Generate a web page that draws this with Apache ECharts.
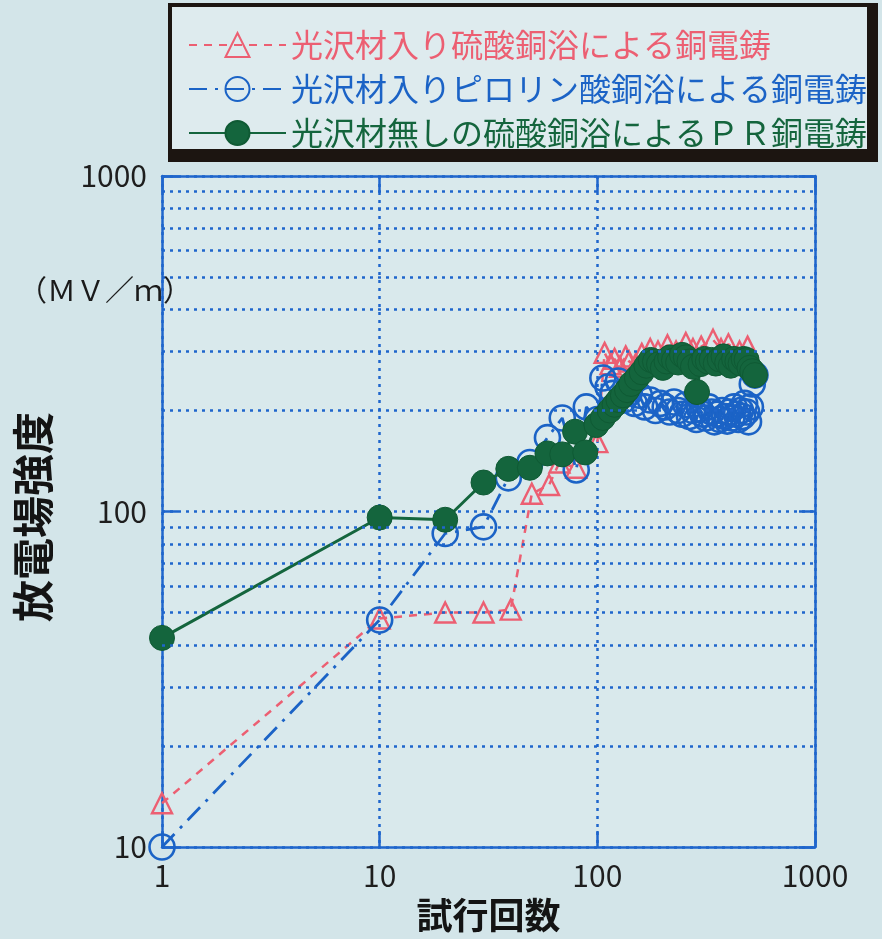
<!DOCTYPE html>
<html><head><meta charset="utf-8">
<script src="https://cdn.jsdelivr.net/npm/echarts/dist/echarts.min.js"></script>
<style>html,body{margin:0;padding:0;background:#d3e5e9;}#c{width:882px;height:939px;}</style>
</head><body><div id="c"></div>
<script>
const seriesNames = ['光沢材入り硫酸銅浴による銅電鋳', '光沢材入りピロリン酸銅浴による銅電鋳', '光沢材無しの硫酸銅浴によるＰＲ銅電鋳'];
const pinkX = [1, 10, 20, 30, 40, 50, 60, 67, 80, 100, 108, 115, 120, 127, 135, 140, 150, 160, 175, 190, 210, 230, 255, 275, 300, 340, 370, 400, 450, 490];
const pinkY = [13.5, 48, 50, 50, 51, 113, 120, 140, 135, 161, 297, 275, 285, 270, 290, 280, 275, 295, 305, 300, 313, 300, 318, 305, 310, 325, 305, 315, 300, 310];
const blueX = [1, 10, 20, 30, 39, 49, 59, 69, 80, 89, 100, 106, 112, 118, 125, 132, 140, 148, 156, 165, 175, 185, 195, 205, 215, 225, 235, 245, 255, 265, 275, 285, 295, 305, 315, 325, 335, 345, 355, 365, 375, 385, 395, 405, 415, 425, 435, 445, 455, 465, 475, 485, 495, 505, 515, 530];
const blueY = [10, 47.5, 86, 90, 126, 140, 166, 190, 133, 205, 188, 250, 235, 225, 245, 215, 225, 210, 222, 205, 215, 200, 210, 205, 198, 212, 200, 195, 208, 192, 200, 188, 202, 195, 190, 205, 198, 185, 195, 188, 200, 192, 186, 198, 190, 205, 195, 188, 200, 192, 210, 198, 185, 205, 240, 255];
const greenX = [1, 10, 20, 30, 39, 49, 59, 69, 79, 88, 99, 106, 114, 120, 125, 131, 137, 143, 152, 160, 168, 176, 184, 192, 200, 208, 216, 225, 235, 245, 255, 265, 275, 287, 298, 310, 322, 335, 350, 365, 380, 395, 410, 425, 440, 455, 470, 485, 500, 515, 530];
const greenY = [42, 96, 94.5, 122, 134, 135, 149, 148, 173, 150, 181, 190, 200, 208, 215, 222, 230, 240, 250, 260, 272, 283, 280, 275, 268, 280, 288, 282, 278, 293, 288, 280, 270, 227, 275, 285, 280, 283, 276, 284, 290, 278, 272, 285, 280, 276, 285, 283, 268, 262, 255];
const xRange = [1, 1000];
const yRange = [10, 1000];
const minorGridY = [20, 30, 40, 50, 60, 70, 80, 90, 200, 300, 400, 500, 600, 700, 800, 900];
const xAxisTitle = '試行回数';
const yAxisTitle = '放電場強度';
const yUnit = '（ＭＶ／ｍ）';

const FONT = '"Noto Sans CJK JP", "Noto Sans", sans-serif';
const PINK = '#ec5f72', BLUE = '#1b63c6', GREEN = '#14653d', GRID = '#1f66cc';
const zip = (a, b) => a.map((v, i) => [v, b[i]]);
const plain = v => String(v);

const axisBase = {
  type: 'log', logBase: 10,
  axisLine: { show: true, lineStyle: { color: GRID, width: 2.5 } },
  axisTick: { show: true, inside: true, length: 16, lineStyle: { color: GRID, width: 2.5 } },
  minorTick: { show: false },
  splitLine: { show: false }
};

const chart = echarts.init(document.getElementById('c'));
chart.setOption({
  backgroundColor: '#d3e5e9',
  animation: false,
  grid: { left: 162, top: 176, right: 67, bottom: 92, show: true, backgroundColor: '#d9e9ec', borderWidth: 0 },
  graphic: [
    { type: 'rect', shape: { x: 168, y: 3, width: 710, height: 159 }, style: { fill: '#1c1511' }, z: 0 },
    { type: 'rect', shape: { x: 172, y: 7, width: 695, height: 142 }, style: { fill: '#deebee' }, z: 0 },
    { type: 'text', x: 18, y: 290, z: 10, style: { text: yUnit, font: '29px ' + FONT, fill: '#1a1a1a', verticalAlign: 'middle', align: 'left' } },
    { type: 'text', x: 33, y: 517, rotation: Math.PI / 2, z: 10, style: { text: yAxisTitle, font: 'bold 42px ' + FONT, fill: '#141414', verticalAlign: 'middle', align: 'center' } }
  ],
  legend: {
    left: 183, top: 24, orient: 'vertical',
    itemWidth: 97, itemHeight: 30, itemGap: 12,
    textStyle: { fontSize: 32, fontFamily: FONT, padding: [0, 0, 0, 0] },
    data: [
      { name: seriesNames[0], textStyle: { color: PINK } },
      { name: seriesNames[1], textStyle: { color: BLUE } },
      { name: seriesNames[2], textStyle: { color: GREEN } }
    ]
  },
  xAxis: [
    Object.assign({}, axisBase, {
      min: xRange[0], max: xRange[1], position: 'bottom',
      axisLabel: { fontSize: 30, fontFamily: FONT, color: '#1e1e1e', margin: 14, formatter: plain },
      splitLine: { show: true, lineStyle: { color: GRID, width: 2.5, type: [3, 5] } },
      name: xAxisTitle, nameLocation: 'middle', nameGap: 50,
      nameTextStyle: { fontSize: 36, fontWeight: 'bold', fontFamily: FONT, color: '#141414' }
    }),
    Object.assign({}, axisBase, {
      min: xRange[0], max: xRange[1], position: 'top', axisLabel: { show: false }
    })
  ],
  yAxis: [
    Object.assign({}, axisBase, {
      min: yRange[0], max: yRange[1], position: 'left',
      axisLabel: { fontSize: 30, fontFamily: FONT, color: '#1e1e1e', margin: 15, padding: [0, 0, 14, 0], formatter: plain },
      splitLine: { show: true, lineStyle: { color: GRID, width: 2.5, type: [3, 5] } }
    }),
    Object.assign({}, axisBase, {
      min: yRange[0], max: yRange[1], position: 'right', axisLabel: { show: false }
    })
  ],
  series: [
    {
      name: seriesNames[0], type: 'line', z: 2,
      data: zip(pinkX, pinkY),
      symbol: 'triangle', symbolSize: 20,
      itemStyle: { color: 'rgba(0,0,0,0)', borderColor: PINK, borderWidth: 2.4 },
      lineStyle: { color: PINK, width: 2.5, type: [8, 7] },
      markLine: {
        silent: true, symbol: 'none', label: { show: false },
        lineStyle: { color: GRID, width: 2.5, type: [3, 5] },
        data: minorGridY.map(v => ({ yAxis: v }))
      }
    },
    {
      name: seriesNames[1], type: 'line', z: 3,
      data: zip(blueX, blueY),
      symbol: 'circle', symbolSize: 25,
      itemStyle: { color: 'rgba(0,0,0,0)', borderColor: BLUE, borderWidth: 2.6 },
      lineStyle: { color: BLUE, width: 2.8, type: [18, 8, 3, 8] }
    },
    {
      name: seriesNames[2], type: 'line', z: 4,
      data: zip(greenX, greenY),
      symbol: 'circle', symbolSize: 25,
      itemStyle: { color: GREEN, borderColor: '#0f5a34', borderWidth: 1 },
      lineStyle: { color: GREEN, width: 3 }
    }
  ]
});
</script></body></html>
